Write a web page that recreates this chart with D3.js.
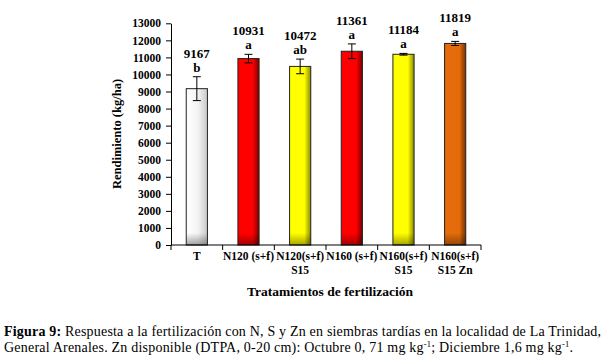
<!DOCTYPE html>
<html><head><meta charset="utf-8">
<script src="https://cdn.jsdelivr.net/npm/d3@7"></script>
<style>
body{margin:0;background:#fff;}
svg{display:block;font-family:"Liberation Serif","Times New Roman",serif;}
.cap{font-size:14px;}
</style></head>
<body>
<svg id="c" width="616" height="359"></svg>
<script>
const categories = [["T"],["N120 (s+f)"],["N120(s+f)","S15"],["N160 (s+f)"],["N160(s+f)","S15"],["N160(s+f)","S15 Zn"]];
const values = [9167, 10931, 10472, 11361, 11184, 11819];
const errors = [700, 250, 430, 430, 50, 120];
const letters = ["b","a","ab","a","a","a"];
const colors = ["#ffffff","#ff0000","#ffff00","#ff0000","#ffff00","#e46c0a"];
const darks = ["#9a9a9a","#7a0000","#8a8a00","#7a0000","#8a8a00","#7a3000"];
const yTicks = d3.range(0, 13001, 1000);

const svg = d3.select("#c");
const x0 = 171, x1 = 481, yb = 245, yt = 23.3;
const x = d3.scaleBand().domain(d3.range(categories.length)).range([x0, x1]).paddingInner(0.59).paddingOuter(0.295);
const y = d3.scaleLinear().domain([0, 13000]).range([yb, yt]);

const defs = svg.append("defs");
colors.forEach((c, i) => {
  const g = defs.append("linearGradient").attr("id", "g" + i).attr("x1", 0).attr("x2", 1).attr("y1", 0).attr("y2", 0);
  if (i === 0) {
    g.append("stop").attr("offset", 0).attr("stop-color", "#ffffff");
    g.append("stop").attr("offset", 0.55).attr("stop-color", "#f4f4f4");
    g.append("stop").attr("offset", 1).attr("stop-color", "#c8c8c8");
  } else {
    g.append("stop").attr("offset", 0).attr("stop-color", c);
    g.append("stop").attr("offset", 0.7).attr("stop-color", c);
    g.append("stop").attr("offset", 1).attr("stop-color", darks[i]);
  }
});
const vg = defs.append("linearGradient").attr("id", "vg").attr("x1", 0).attr("x2", 0).attr("y1", 0).attr("y2", 1);
vg.append("stop").attr("offset", 0).attr("stop-color", "#000").attr("stop-opacity", 0);
vg.append("stop").attr("offset", 1).attr("stop-color", "#000").attr("stop-opacity", 0.35);

const bars = svg.append("g");
values.forEach((v, i) => {
  const bx = x(i), bw = x.bandwidth();
  bars.append("rect").attr("x", bx).attr("y", y(v)).attr("width", bw).attr("height", yb - y(v))
    .attr("fill", `url(#g${i})`);
  const oh = Math.min(12, yb - y(v));
  bars.append("rect").attr("x", bx).attr("y", yb - oh).attr("width", bw).attr("height", oh)
    .attr("fill", "url(#vg)");
  bars.append("rect").attr("x", bx).attr("y", y(v)).attr("width", bw).attr("height", yb - y(v))
    .attr("fill", "none").attr("stroke", "#222").attr("stroke-width", 1);
  const cx = bx + bw / 2;
  const e = bars.append("g").attr("stroke", "#000").attr("stroke-width", 1);
  e.append("line").attr("x1", cx).attr("x2", cx).attr("y1", y(v + errors[i])).attr("y2", y(v - errors[i]));
  e.append("line").attr("x1", cx - 4).attr("x2", cx + 4).attr("y1", y(v + errors[i])).attr("y2", y(v + errors[i]));
  e.append("line").attr("x1", cx - 4).attr("x2", cx + 4).attr("y1", y(v - errors[i])).attr("y2", y(v - errors[i]));
  const ly = y(v + errors[i]) - 5;
  bars.append("text").attr("x", cx).attr("y", ly).attr("text-anchor", "middle")
    .attr("font-size", 13).attr("font-weight", "bold").text(letters[i]);
  bars.append("text").attr("x", cx).attr("y", ly - 14).attr("text-anchor", "middle")
    .attr("font-size", 13).attr("font-weight", "bold").text(values[i]);
});

const ya = svg.append("g").attr("transform", `translate(${x0},0)`)
  .call(d3.axisLeft(y).tickValues(yTicks).tickSize(5).tickSizeOuter(0).tickFormat(d3.format("d")));
ya.select(".domain").attr("stroke", "#000");
ya.selectAll(".tick line").attr("stroke", "#000");
ya.selectAll("text").attr("font-family", "Liberation Serif").attr("font-size", 11.5).attr("font-weight", "bold").attr("fill", "#000").attr("x", -10);

svg.append("line").attr("x1", x0).attr("x2", x1).attr("y1", yb).attr("y2", yb).attr("stroke", "#000");
d3.range(categories.length + 1).forEach(k => {
  const tx = x0 + k * (x1 - x0) / categories.length;
  svg.append("line").attr("x1", tx).attr("x2", tx).attr("y1", yb).attr("y2", yb + 5).attr("stroke", "#000");
});
categories.forEach((lines, i) => {
  const cx = x(i) + x.bandwidth() / 2;
  const t = svg.append("text").attr("text-anchor", "middle").attr("font-size", 11.5).attr("font-weight", "bold");
  lines.forEach((l, j) => t.append("tspan").attr("x", cx).attr("y", 260 + j * 13.5).text(l));
});

svg.append("text").attr("transform", "translate(121,134) rotate(-90)").attr("text-anchor", "middle")
  .attr("font-size", 12.5).attr("font-weight", "bold").text("Rendimiento (kg/ha)");
svg.append("text").attr("x", 330).attr("y", 296).attr("text-anchor", "middle")
  .attr("font-size", 13.5).attr("font-weight", "bold").text("Tratamientos de fertilización");

const c1 = svg.append("text").attr("class", "cap").attr("x", 4).attr("y", 336)
  .attr("textLength", 597).attr("lengthAdjust", "spacing");
c1.append("tspan").attr("font-weight", "bold").text("Figura 9:");
c1.append("tspan").text(" Respuesta a la fertilización con N, S y Zn en siembras tardías en la localidad de La Trinidad,");
const c2 = svg.append("text").attr("class", "cap").attr("x", 4).attr("y", 352)
  .attr("textLength", 569).attr("lengthAdjust", "spacing");
c2.append("tspan").text("General Arenales. Zn disponible (DTPA, 0-20 cm): Octubre 0, 71 mg kg");
c2.append("tspan").attr("font-size", 8.5).attr("dy", -5).text("-1");
c2.append("tspan").attr("dy", 5).text("; Diciembre 1,6 mg kg");
c2.append("tspan").attr("font-size", 8.5).attr("dy", -5).text("-1");
c2.append("tspan").attr("dy", 5).text(".");
</script>
</body></html>
